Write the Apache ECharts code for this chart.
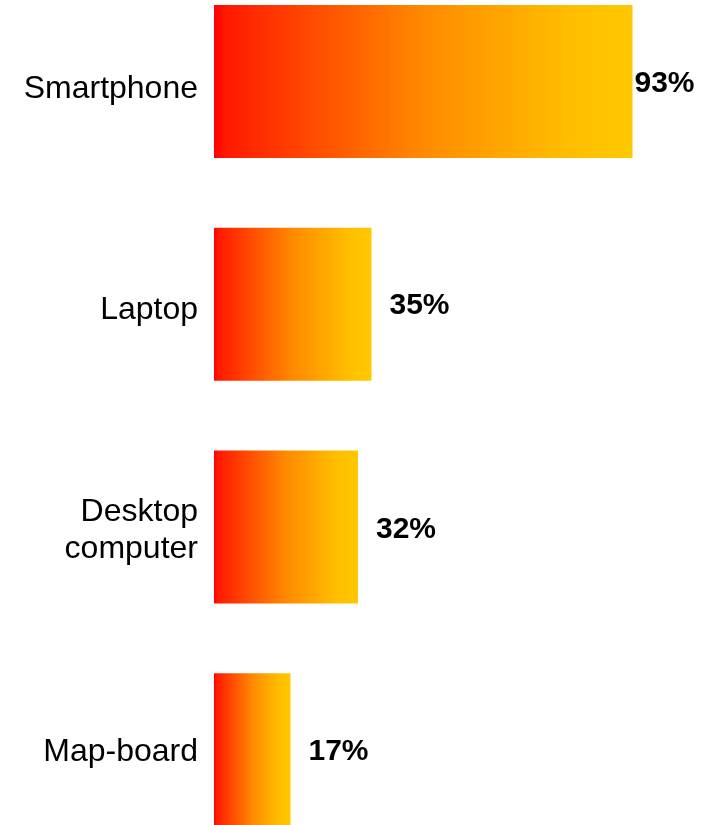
<!DOCTYPE html>
<html>
<head>
<meta charset="utf-8">
<style>
  html, body { margin: 0; padding: 0; background: #ffffff; overflow: hidden; }
  #chart { position: relative; top: -30px; width: 725px; height: 891px; }
</style>
<script src="https://cdn.jsdelivr.net/npm/echarts@6/dist/echarts.min.js"></script>
</head>
<body>
<div id="chart"></div>
<script>
// Device types (top to bottom) and share of respondents using each, in percent
const categories = ['Smartphone', 'Laptop', 'Desktop\ncomputer', 'Map-board'];
const shares = [93, 35, 32, 17];
// Gap between bar end and value label; the longest bar keeps its label tight
const labelGaps = [2, 18, 18, 18];
// Small downward nudges for the category names and the value labels
const nameShift = [8, 6, 4, 3];
const valueShift = [2, 2, 3, 2];

const chart = echarts.init(document.getElementById('chart'));

const barGradient = new echarts.graphic.LinearGradient(0, 0, 1, 0, [
  { offset: 0, color: '#ff0000' },
  { offset: 0.03, color: '#ff1a00' },
  { offset: 0.5, color: '#ff8a00' },
  { offset: 0.85, color: '#ffbe00' },
  { offset: 1, color: '#ffc800' }
]);

// One rich style per category: top padding on the first line pushes the
// label text down; following lines sit one line-height apart.
const nameFont = {
  color: '#000000',
  fontFamily: 'Liberation Sans, Arial, sans-serif',
  fontSize: 32,
  lineHeight: 37,
  align: 'right'
};
const rich = {};
categories.forEach((c, i) => {
  rich['n' + i] = Object.assign({}, nameFont, { padding: [nameShift[i] * 2, 0, 0, 0] });
  rich['m' + i] = Object.assign({}, nameFont, { padding: [nameShift[i] * 2, 0, 0, 0] });
});

chart.setOption({
  animation: false,
  grid: { left: 214, width: 450, top: 0, bottom: 0, containLabel: false },
  xAxis: {
    type: 'value',
    min: 0,
    max: 100,
    show: false
  },
  yAxis: {
    type: 'category',
    inverse: true,
    data: categories,
    axisLine: { show: false },
    axisTick: { show: false },
    axisLabel: {
      margin: 16,
      align: 'right',
      formatter: (value, idx) => value.split('\n')
        .map((line, k) => (k === 0 ? '{n' : '{m') + idx + '|' + line + '}')
        .join('\n'),
      rich: rich
    }
  },
  series: [{
    type: 'bar',
    barWidth: 153,
    data: shares.map((v, i) => ({
      value: v,
      label: { distance: labelGaps[i], offset: [0, valueShift[i]] }
    })),
    itemStyle: { color: barGradient },
    label: {
      show: true,
      position: 'right',
      formatter: p => p.value + '%',
      color: '#000000',
      fontFamily: 'Liberation Sans, Arial, sans-serif',
      fontWeight: 'bold',
      fontSize: 30
    }
  }]
});
</script>
</body>
</html>
